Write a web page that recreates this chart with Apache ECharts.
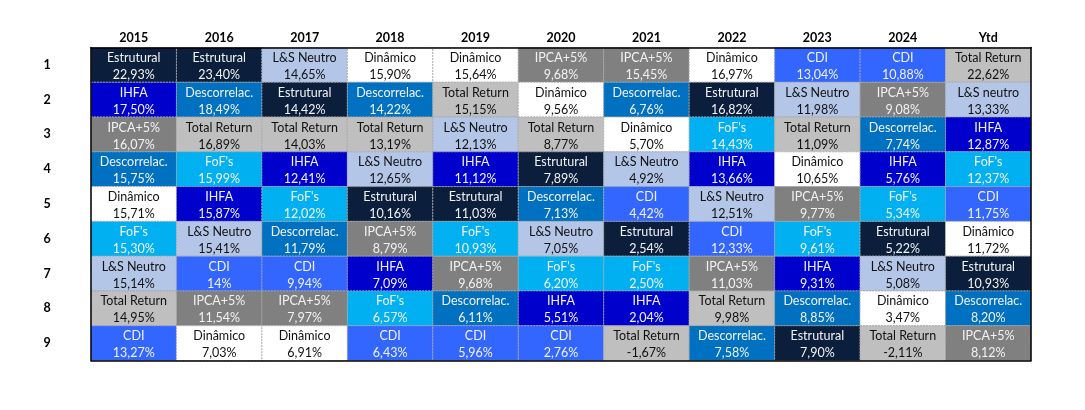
<!DOCTYPE html>
<html>
<head>
<meta charset="utf-8">
<script src="https://cdn.jsdelivr.net/npm/echarts@6/dist/echarts.min.js"></script>
<style>html,body{margin:0;padding:0;background:#fff;}#chart{width:1085px;height:410px;}</style>
</head>
<body>
<div id="chart"></div>
<script>
var years = ['2015','2016','2017','2018','2019','2020','2021','2022','2023','2024','Ytd'];
var ranks = ['1','2','3','4','5','6','7','8','9'];
var names = [
  ['Estrutural','Estrutural','L&S Neutro','Dinâmico','Dinâmico','IPCA+5%','IPCA+5%','Dinâmico','CDI','CDI','Total Return'],
  ['IHFA','Descorrelac.','Estrutural','Descorrelac.','Total Return','Dinâmico','Descorrelac.','Estrutural','L&S Neutro','IPCA+5%','L&S neutro'],
  ['IPCA+5%','Total Return','Total Return','Total Return','L&S Neutro','Total Return','Dinâmico',"FoF's",'Total Return','Descorrelac.','IHFA'],
  ['Descorrelac.',"FoF's",'IHFA','L&S Neutro','IHFA','Estrutural','L&S Neutro','IHFA','Dinâmico','IHFA',"FoF's"],
  ['Dinâmico','IHFA',"FoF's",'Estrutural','Estrutural','Descorrelac.','CDI','L&S Neutro','IPCA+5%',"FoF's",'CDI'],
  ["FoF's",'L&S Neutro','Descorrelac.','IPCA+5%',"FoF's",'L&S Neutro','Estrutural','CDI',"FoF's",'Estrutural','Dinâmico'],
  ['L&S Neutro','CDI','CDI','IHFA','IPCA+5%',"FoF's","FoF's",'IPCA+5%','IHFA','L&S Neutro','Estrutural'],
  ['Total Return','IPCA+5%','IPCA+5%',"FoF's",'Descorrelac.','IHFA','IHFA','Total Return','Descorrelac.','Dinâmico','Descorrelac.'],
  ['CDI','Dinâmico','Dinâmico','CDI','CDI','CDI','Total Return','Descorrelac.','Estrutural','Total Return','IPCA+5%']
];
var values = [
  [22.93,23.40,14.65,15.90,15.64,9.68,15.45,16.97,13.04,10.88,22.62],
  [17.50,18.49,14.42,14.22,15.15,9.56,6.76,16.82,11.98,9.08,13.33],
  [16.07,16.89,14.03,13.19,12.13,8.77,5.70,14.43,11.09,7.74,12.87],
  [15.75,15.99,12.41,12.65,11.12,7.89,4.92,13.66,10.65,5.76,12.37],
  [15.71,15.87,12.02,10.16,11.03,7.13,4.42,12.51,9.77,5.34,11.75],
  [15.30,15.41,11.79,8.79,10.93,7.05,2.54,12.33,9.61,5.22,11.72],
  [15.14,14,9.94,7.09,9.68,6.20,2.50,11.03,9.31,5.08,10.93],
  [14.95,11.54,7.97,6.57,6.11,5.51,2.04,9.98,8.85,3.47,8.20],
  [13.27,7.03,6.91,6.43,5.96,2.76,-1.67,7.58,7.90,-2.11,8.12]
];
var fundColors = {
  'estrutural':'#0B1F3D','ihfa':'#0000CC','descorrelac.':'#0070C0','ipca+5%':'#808080',
  'total return':'#BFBFBF','l&s neutro':'#B4C6E7','dinâmico':'#FFFFFF',"fof's":'#00B0F0','cdi':'#3366FF'
};
var darkText = {'total return':1,'l&s neutro':1,'dinâmico':1};

function fmt(v){
  var s = Number.isInteger(v) ? String(v) : v.toFixed(2);
  return s.replace('.', ',') + '%';
}

var data = [];
for (var r = 0; r < ranks.length; r++) {
  for (var c = 0; c < years.length; c++) {
    data.push([c, r, names[r][c], values[r][c]]);
  }
}

var FONT = 'Lato, "Open Sans", sans-serif';
var chart = echarts.init(document.getElementById('chart'));
chart.setOption({
  animation: false,
  grid: {left: 91, top: 47.5, width: 940, height: 313},
  xAxis: [
    {type:'category', data: years, position:'top', z:10,
     axisLine:{show:true, lineStyle:{color:'#000', width:1.5}},
     axisTick:{show:false}, splitLine:{show:false},
     axisLabel:{color:'#000', fontWeight:'bold', fontSize:12.5, fontFamily:FONT, margin:3}},
    {type:'category', data: years, position:'bottom', z:10,
     axisLine:{show:true, lineStyle:{color:'#000', width:1.5}},
     axisTick:{show:false}, axisLabel:{show:false}}
  ],
  yAxis: [
    {type:'category', data: ranks, inverse:true, position:'left', z:10,
     axisLine:{show:true, lineStyle:{color:'#000', width:1.5}},
     axisTick:{show:false}, splitLine:{show:false},
     axisLabel:{color:'#000', fontWeight:'bold', fontSize:12.5, fontFamily:FONT, margin:44, align:'center'}},
    {type:'category', data: ranks, inverse:true, position:'right', z:10,
     axisLine:{show:true, lineStyle:{color:'#000', width:1.5}},
     axisTick:{show:false}, axisLabel:{show:false}}
  ],
  series: [{
    type:'custom',
    xAxisIndex:0, yAxisIndex:0,
    data: data,
    encode:{x:0, y:1},
    renderItem: function(params, api){
      var cx = api.value(0), cy = api.value(1);
      var name = data[params.dataIndex][2];
      var val = data[params.dataIndex][3];
      var center = api.coord([cx, cy]);
      var size = api.size([1, 1]);
      var key = name.toLowerCase();
      var fill = fundColors[key];
      var tc = darkText[key] ? '#111' : '#F2F2F2';
      var x0 = center[0] - size[0]/2, y0 = center[1] - size[1]/2;
      return {
        type:'group',
        children:[
          {type:'rect', shape:{x:x0, y:y0, width:size[0], height:size[1]},
           style:{fill:fill, stroke:'#A6A6A6', lineWidth:0.8, lineDash:[2,1]}},
          {type:'text', x:center[0], y:y0 + size[1]*0.30,
           style:{text:name, fill:tc, fontSize:12.5, fontFamily:FONT, align:'center', verticalAlign:'middle'}},
          {type:'text', x:center[0], y:y0 + size[1]*0.79,
           style:{text:fmt(val), fill:tc, fontSize:12.5, fontFamily:FONT, align:'center', verticalAlign:'middle'}}
        ]
      };
    }
  }]
});
</script>
</body>
</html>
